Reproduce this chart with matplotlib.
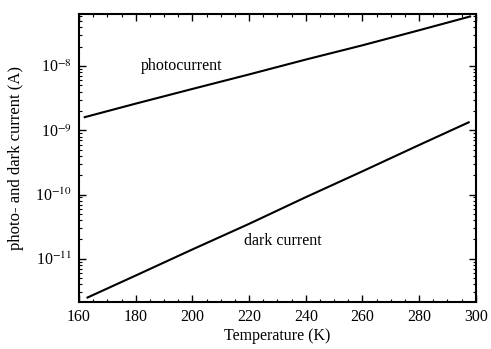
import matplotlib
matplotlib.use("Agg")
import matplotlib.pyplot as plt
from matplotlib.ticker import MultipleLocator, LogLocator, FixedLocator, FixedFormatter

plt.rcParams['font.family'] = ['Liberation Serif', 'DejaVu Serif']
plt.rcParams['mathtext.fontset'] = 'stix'

# temperature (K) and currents (A)
temp_photo = [162, 180, 200, 220, 240, 260, 280, 298]
photocurrent = [1.6e-9, 2.6e-9, 4.4e-9, 7.4e-9, 1.26e-8, 2.1e-8, 3.6e-8, 5.9e-8]

temp_dark = [163, 180, 200, 220, 240, 260, 280, 297.5]
dark_current = [2.5e-12, 5.5e-12, 1.4e-11, 3.5e-11, 9.1e-11, 2.3e-10, 5.9e-10, 1.33e-9]

ytick_vals = [1e-11, 1e-10, 1e-9, 1e-8]
ytick_labels = ['10$^{-11}$', '10$^{-10}$', '10$^{-9}$', '10$^{-8}$']

fig = plt.figure(figsize=(4.91, 3.49), dpi=100)
ax = fig.add_axes([0.161, 0.135, 0.808, 0.825])

ax.semilogy(temp_photo, photocurrent, color='black', lw=1.5)
ax.semilogy(temp_dark, dark_current, color='black', lw=1.5)

ax.set_xlim(160, 300)
ax.set_ylim(10**-11.67, 10**-7.19)

ax.xaxis.set_major_locator(MultipleLocator(20))
ax.xaxis.set_minor_locator(MultipleLocator(5))
ax.yaxis.set_major_locator(FixedLocator(ytick_vals))
ax.yaxis.set_major_formatter(FixedFormatter(ytick_labels))
ax.yaxis.set_minor_locator(LogLocator(base=10, subs=range(2, 10)))

ax.tick_params(which='both', direction='in', top=True, right=True, labelsize=11.5)
ax.tick_params(which='major', length=5, width=1, pad=5)
ax.tick_params(which='minor', length=2.5, width=0.8)
for s in ax.spines.values():
    s.set_linewidth(1.5)

ax.text(196, 1e-8, 'photocurrent', fontsize=11.5, ha='center', va='center')
ax.text(232, 10**-10.73, 'dark current', fontsize=11.5, ha='center', va='center')

ax.set_xlabel('Temperature (K)', fontsize=11.5, labelpad=2)
ax.set_ylabel('photo- and dark current (A)', fontsize=12, labelpad=8)

fig.savefig('out.png', dpi=100)
